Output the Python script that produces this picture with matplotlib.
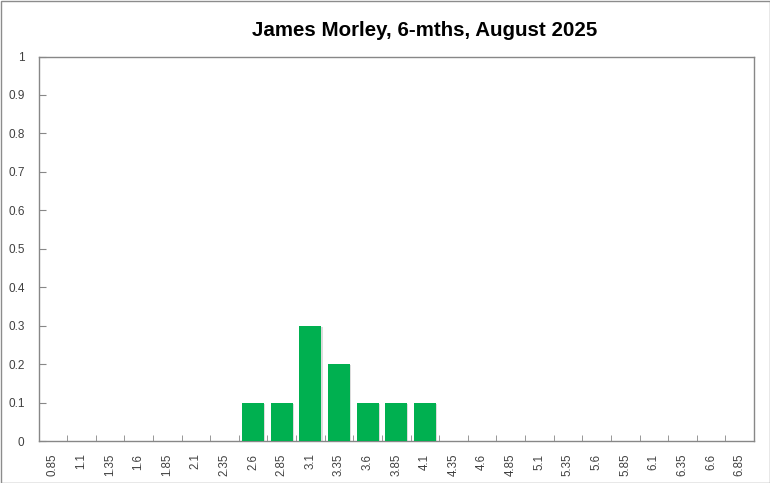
import matplotlib
matplotlib.use("Agg")
import matplotlib.pyplot as plt
from matplotlib.patches import Rectangle

# Datos
categorias = ["0.85", "1.1", "1.35", "1.6", "1.85", "2.1", "2.35", "2.6", "2.85",
              "3.1", "3.35", "3.6", "3.85", "4.1", "4.35", "4.6", "4.85", "5.1",
              "5.35", "5.6", "5.85", "6.1", "6.35", "6.6", "6.85"]
valores = [0, 0, 0, 0, 0, 0, 0, 0.1, 0.1, 0.3, 0.2, 0.1, 0.1, 0.1,
           0, 0, 0, 0, 0, 0, 0, 0, 0, 0, 0]
etiquetas_y = ["0", "0.1", "0.2", "0.3", "0.4", "0.5", "0.6", "0.7", "0.8", "0.9", "1"]

plt.rcParams["font.family"] = ["Liberation Sans", "DejaVu Sans"]

fig = plt.figure(figsize=(7.7, 4.83), dpi=100)
ax = fig.add_axes([38.5 / 770, 42 / 483, (754 - 38.5) / 770, (441 - 56.5) / 483])

x = list(range(len(categorias)))
# sombra ligera, como en Excel
ax.bar([i + 0.04 for i in x], valores, width=0.77, bottom=-0.003,
       color="#bbbbbb", alpha=0.5, zorder=2)
ax.bar(x, valores, width=0.77, color="#00B050", zorder=3)

ax.set_xlim(-0.5, len(categorias) - 0.5)
ax.set_ylim(0, 1)

gris = "#878787"
for lado in ax.spines.values():
    lado.set_color(gris)
    lado.set_linewidth(1)

ax.set_yticks([float(v) for v in etiquetas_y])
ax.set_yticklabels(etiquetas_y, fontsize=8.5, color="#404040")
ax.tick_params(axis="y", direction="in", length=5, color=gris, pad=10)

ax.set_xticks(x)
ax.set_xticklabels(categorias, rotation=90, fontsize=8.3, color="#404040")
ax.tick_params(axis="x", length=0, pad=9)
ax.set_xticks([i - 0.5 for i in x[1:]], minor=True)
ax.tick_params(axis="x", which="minor", direction="in", length=4, color=gris)

fig.text(425 / 770, 1 - 31 / 483, "James Morley, 6-mths, August 2025",
         ha="center", va="center", fontsize=14.8, fontweight="bold", color="black")

# marco exterior
fig.patches.append(Rectangle((0.5 / 770, 0.5 / 483), 769 / 770, 482 / 483,
                             transform=fig.transFigure, fill=False,
                             edgecolor="#8c8c8c", linewidth=1))

fig.savefig("out.png", dpi=100)
